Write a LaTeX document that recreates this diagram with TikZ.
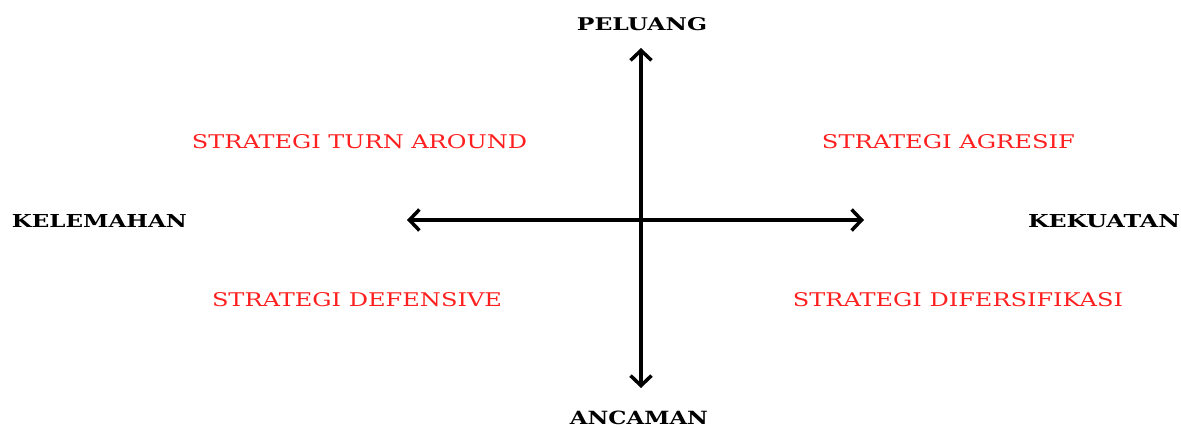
\documentclass[tikz,border=0pt]{standalone}
\usepackage{graphicx}
\usepackage{fontspec}
\setmainfont{DejaVu Serif}
\usetikzlibrary{arrows.meta}
\definecolor{stratred}{rgb}{1,0.12,0.12}
\tikzset{
  x=1pt, y=1pt,
  axis/.style={line width=3.5pt, {Straight Barb[length=10pt,width=21pt,line width=3.5pt]}-{Straight Barb[length=10pt,width=21pt,line width=3.5pt]}},
  lbl/.style={inner sep=0pt, anchor=center, text=black},
  strat/.style={inner sep=0pt, anchor=center, text=stratred}
}
\newcommand{\fitlbl}[3]{\resizebox{#1pt}{#2pt}{\bfseries #3}}
\newcommand{\fitstrat}[3]{\resizebox{#1pt}{#2pt}{#3}}
\begin{document}
\begin{tikzpicture}
\useasboundingbox (0,0) rectangle (1181,428);
\coordinate (top) at (641,380);
\coordinate (bottom) at (641,40);
\coordinate (left) at (407,208);
\coordinate (right) at (864,208);
\draw[axis] (bottom) -- (top);
\draw[axis] (left) -- (right);
\node[lbl] (peluang) at (642,403.5) {\fitlbl{130}{13}{PELUANG}};
\node[lbl] (ancaman) at (639,10.5) {\fitlbl{138}{13.5}{ANCAMAN}};
\node[lbl] (kelemahan) at (99.5,206.5) {\fitlbl{175}{13}{KELEMAHAN}};
\node[lbl] (kekuatan) at (1104,206.5) {\fitlbl{152}{13}{KEKUATAN}};
\node[strat] (turn) at (359.5,286) {\fitstrat{335}{14}{STRATEGI TURN AROUND}};
\node[strat] (agresif) at (948.5,286) {\fitstrat{253}{14}{STRATEGI AGRESIF}};
\node[strat] (defensive) at (357,128) {\fitstrat{290}{14}{STRATEGI DEFENSIVE}};
\node[strat] (difers) at (958,128) {\fitstrat{330}{14}{STRATEGI DIFERSIFIKASI}};
\end{tikzpicture}
\end{document}
